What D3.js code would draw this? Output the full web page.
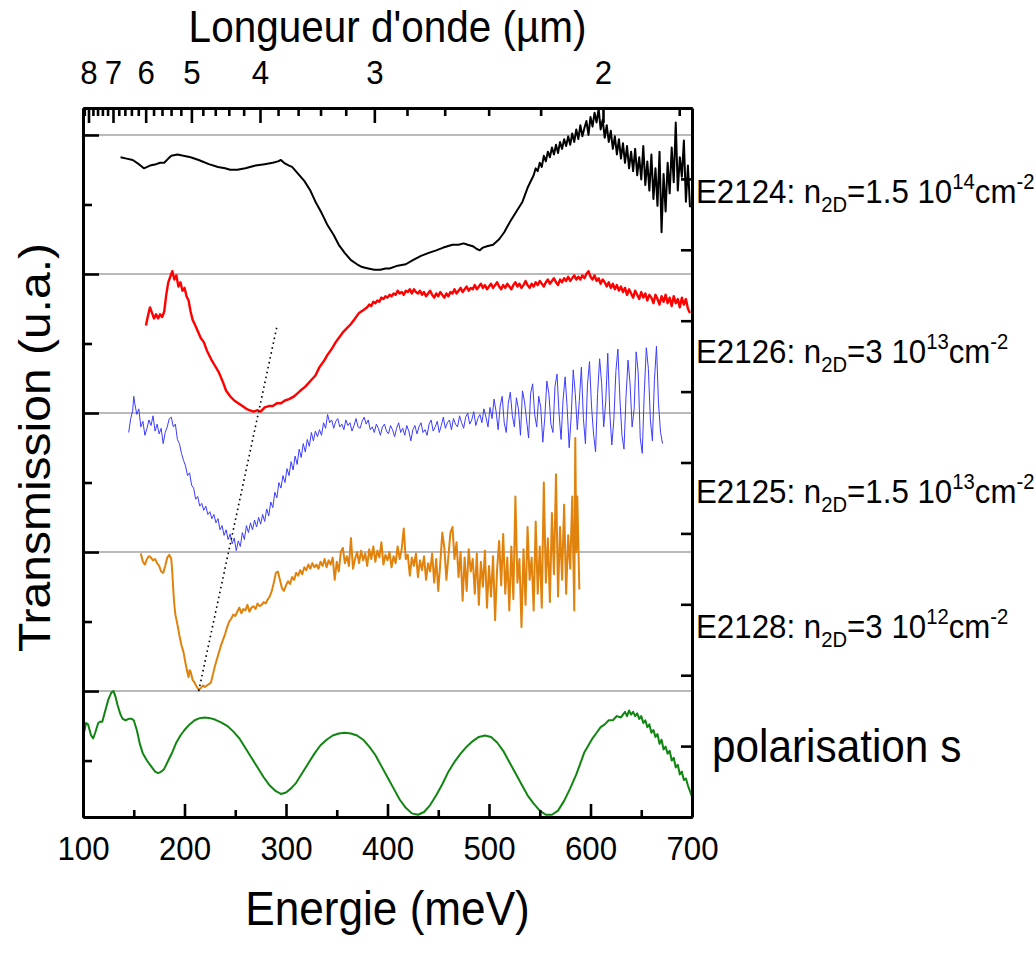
<!DOCTYPE html>
<html>
<head>
<meta charset="utf-8">
<script src="https://cdn.jsdelivr.net/npm/d3@7"></script>
<style>
  body { margin: 0; background: #fff; }
  text { font-family: "Liberation Sans", Arial, sans-serif; fill: #000; }
</style>
</head>
<body>
<div class="graph"></div>
<script>
// Spectra: [energy meV, transmission (offset, arbitrary units)]
var e2124 = [[137,384],[143,383],[149,382],[155,379],[160,376],[166,378],[172,379],[176,380],[180,380],[184,383],[187,385],[193,386],[199,385],[206,384],[214,382],[224,379],[233,377],[240,376],[245,375],[252,375],[260,376],[270,378],[279,379],[287,380],[292,381],[295,382],[298,380],[303,378],[306,377],[312,372],[318,367],[324,360],[329,352],[335,344],[341,335],[347,328],[352,321],[358,315],[364,310],[370,307],[375,305],[381,304],[387,303],[393,303],[398,304],[402,304],[410,306],[418,307],[425,310],[433,313],[440,315],[448,317],[455,319],[464,321],[470,321],[475,322],[479,321],[484,320],[488,318],[491,317],[494,319],[498,320],[504,321],[510,325],[515,330],[521,338],[527,345],[533,352],[538,362],[544,371],[546,376],[548,374],[550,380],[552,377],[554,385],[556,381],[558,388],[560,384],[562,391],[564,386],[566,393],[568,387],[570,395],[572,390],[574,397],[576,392],[578,399],[580,393],[582,401],[584,395],[586,404],[588,397],[590,407],[592,399],[594,405],[596,410],[598,400],[600,413],[602,406],[604,416],[606,409],[608,419],[610,404],[612,411],[614,398],[616,407],[618,395],[620,403],[622,390],[624,399],[626,386],[628,397],[630,383],[632,394],[634,380],[636,392],[638,376],[640,388],[642,374],[644,390],[646,371],[648,384],[650,368],[652,392],[654,364],[656,381],[658,360],[660,386],[662,354],[664,376],[666,349],[668,388],[670,330],[672,372],[674,345],[676,380],[678,358],[680,391],[682,366],[684,409],[686,360],[688,384],[690,370],[692,396],[694,352],[696,378],[698,348]];

var e2126 = [[162,263],[164,270],[166,276],[168,272],[170,268],[172,271],[174,268],[176,271],[178,269],[180,273],[182,285],[184,294],[186,298],[188,302],[190,296],[192,299],[194,291],[196,294],[198,288],[200,290],[202,284],[204,281],[206,273],[208,267],[210,264],[213,259],[216,254],[219,251],[222,245],[226,239],[230,234],[234,229],[238,222],[241,216],[245,212],[249,209],[253,207],[257,205],[261,203],[264,202],[268,201],[272,202],[275,201],[279,204],[283,205],[287,205],[291,207],[295,207],[299,209],[303,210],[308,212],[314,216],[319,219],[324,223],[329,227],[333,233],[337,237],[341,242],[345,246],[349,251],[352,254],[356,258],[360,261],[364,264],[368,268],[372,272],[376,274],[380,276],[382,278],[384,277],[386,280],[388,279],[390,281],[392,280],[394,283],[396,282],[398,284],[400,283],[402,285],[404,284],[406,286],[408,285],[410,288],[412,286],[414,287],[416,285],[418,288],[420,287],[422,289],[424,286],[426,289],[428,287],[430,286],[432,288],[434,285],[436,287],[438,284],[440,286],[442,288],[444,285],[446,283],[448,286],[450,284],[452,287],[454,285],[456,283],[458,286],[460,284],[462,287],[464,286],[466,289],[468,286],[470,288],[472,290],[474,287],[476,289],[478,291],[480,288],[482,290],[484,289],[486,292],[488,289],[490,291],[492,293],[494,290],[496,292],[498,289],[500,291],[502,293],[504,290],[506,292],[508,294],[510,291],[512,289],[514,292],[516,290],[518,293],[520,291],[522,289],[524,292],[526,294],[528,291],[530,293],[532,290],[534,292],[536,295],[538,292],[540,290],[542,293],[544,291],[546,294],[548,292],[550,295],[552,293],[554,291],[556,294],[558,296],[560,293],[562,295],[564,297],[566,294],[568,292],[570,296],[572,294],[574,297],[576,295],[578,298],[580,295],[582,297],[584,299],[586,296],[588,298],[590,296],[592,299],[594,297],[596,300],[598,302],[600,298],[602,296],[604,299],[606,295],[608,297],[610,293],[612,296],[614,294],[616,291],[618,294],[620,290],[622,293],[624,289],[626,292],[628,288],[630,291],[632,287],[634,290],[636,285],[638,289],[640,286],[642,283],[644,288],[646,285],[648,282],[650,287],[652,283],[654,286],[656,281],[658,285],[660,283],[662,279],[664,285],[666,282],[668,278],[670,284],[672,280],[674,285],[676,279],[678,283],[680,277],[682,284],[684,279],[686,282],[688,276],[690,283],[692,278],[694,282],[696,275],[698,272]];

var e2125 = [[145,186],[147,196],[149,202],[150,212],[151,207],[153,199],[155,203],[157,190],[159,194],[161,184],[163,189],[165,195],[167,191],[169,198],[171,187],[173,192],[175,185],[177,189],[179,178],[181,186],[183,190],[185,196],[187,197],[189,190],[191,192],[193,181],[195,178],[197,171],[199,166],[201,162],[203,155],[205,157],[207,148],[209,146],[211,138],[213,140],[215,133],[217,135],[219,130],[221,133],[223,127],[225,129],[227,124],[229,127],[231,121],[233,124],[235,116],[237,119],[239,112],[241,116],[243,109],[245,113],[247,106],[249,110],[251,101],[253,108],[255,104],[257,114],[259,109],[261,119],[263,114],[265,121],[267,116],[269,123],[271,118],[273,125],[275,120],[277,127],[279,122],[281,131],[283,126],[285,136],[287,132],[289,143],[291,139],[293,150],[295,146],[297,155],[299,150],[301,160],[303,155],[305,165],[307,159],[309,169],[311,163],[313,174],[315,168],[317,178],[319,172],[321,181],[323,176],[325,186],[327,180],[329,187],[331,183],[333,188],[335,184],[337,193],[339,189],[341,199],[343,193],[345,195],[347,189],[349,194],[351,196],[353,190],[355,192],[357,188],[359,195],[361,191],[363,193],[365,187],[367,191],[369,196],[371,190],[373,189],[375,194],[377,197],[379,192],[381,195],[383,188],[385,190],[387,186],[389,192],[391,189],[393,184],[395,190],[397,192],[399,187],[401,185],[403,191],[405,188],[407,183],[409,189],[411,193],[413,186],[415,189],[417,184],[419,191],[421,187],[423,180],[425,188],[427,191],[429,185],[431,190],[433,193],[435,186],[437,188],[439,184],[441,192],[443,195],[445,187],[447,190],[449,194],[451,186],[453,191],[455,197],[457,189],[459,193],[461,195],[463,188],[465,196],[467,192],[469,190],[471,198],[473,193],[475,189],[477,197],[479,200],[481,192],[483,195],[485,201],[487,191],[489,196],[491,199],[493,193],[495,203],[497,197],[499,190],[501,204],[503,196],[505,210],[507,201],[509,188],[511,205],[513,212],[515,193],[517,186],[519,207],[521,215],[523,198],[525,190],[527,211],[529,203],[531,184],[533,216],[535,208],[537,195],[539,182],[541,214],[543,221],[545,199],[547,190],[549,212],[551,204],[553,179],[555,197],[557,223],[559,214],[561,192],[563,186],[565,219],[567,228],[569,200],[571,181],[573,210],[575,226],[577,204],[579,175],[581,198],[583,231],[585,214],[587,188],[589,209],[591,233],[593,196],[595,178],[597,220],[599,237],[601,205],[603,185],[605,172],[607,214],[609,239],[611,221],[613,190],[615,208],[617,243],[619,200],[621,177],[623,195],[625,230],[627,246],[629,210],[631,184],[633,174],[635,212],[637,238],[639,221],[641,190],[643,203],[645,244],[647,229],[649,182],[651,171],[653,215],[655,247],[657,232],[659,195],[661,180],[663,224],[665,248],[667,207],[669,186],[671,178]];

var e2128 = [[157,99],[159,93],[161,91],[163,95],[165,97],[167,96],[169,94],[171,95],[173,92],[175,90],[177,86],[179,85],[181,90],[183,96],[185,98],[187,95],[188,85],[189,72],[190,62],[191,55],[193,48],[195,40],[197,33],[199,28],[201,20],[203,13],[204,10],[205,15],[206,14],[208,8],[210,6],[212,3],[214,1],[216,2],[218,4],[220,3],[222,4],[224,5],[226,6],[228,12],[230,18],[232,23],[234,28],[236,33],[238,37],[240,41],[242,46],[244,50],[246,52],[248,55],[250,54],[252,57],[254,60],[256,56],[258,59],[260,58],[262,62],[264,57],[266,60],[268,61],[270,59],[272,63],[274,61],[276,62],[278,64],[280,63],[282,66],[284,68],[286,72],[288,78],[290,85],[292,86],[294,80],[296,74],[298,72],[300,76],[302,79],[304,77],[306,82],[308,80],[310,85],[312,83],[314,87],[316,84],[318,89],[320,87],[322,91],[324,88],[326,92],[328,89],[330,91],[332,88],[334,93],[336,90],[338,95],[340,89],[342,94],[344,91],[346,96],[348,80],[350,93],[352,86],[354,100],[356,103],[358,92],[360,97],[362,90],[364,110],[366,88],[368,95],[370,100],[372,92],[374,101],[376,94],[378,99],[380,90],[382,102],[384,95],[386,104],[388,93],[390,101],[392,96],[394,107],[396,91],[398,98],[400,94],[402,100],[404,89],[406,97],[408,92],[410,104],[412,95],[414,102],[416,117],[418,95],[420,98],[422,83],[424,96],[426,90],[428,99],[430,82],[432,94],[434,87],[436,97],[438,80],[440,92],[442,86],[444,99],[446,78],[448,95],[450,72],[452,92],[454,114],[456,103],[458,80],[460,97],[462,114],[464,118],[466,95],[468,107],[470,82],[472,100],[474,65],[476,96],[478,72],[480,102],[482,86],[484,95],[486,70],[488,99],[490,62],[492,93],[494,75],[496,101],[498,60],[500,90],[502,68],[504,97],[506,51],[508,88],[510,108],[512,76],[514,113],[516,70],[518,96],[520,58],[522,104],[524,66],[526,140],[528,78],[530,95],[532,46],[534,102],[536,62],[538,118],[540,80],[542,96],[544,58],[546,122],[548,70],[550,104],[552,60],[554,150],[556,78],[558,110],[560,64],[562,128],[564,84],[566,156],[568,68],[570,118],[572,80],[574,134],[576,70],[578,112],[580,88],[582,140],[584,58],[585,182],[586,100],[587,140],[589,73]];

var polS = [[100,-28],[101,-30],[103,-23],[105,-24],[108,-32],[110,-34],[112,-30],[115,-23],[117,-22],[119,-22],[122,-14],[125,-6],[128,-1],[130,0],[132,-4],[134,-10],[137,-17],[139,-20],[142,-21],[145,-20],[148,-20],[150,-21],[153,-28],[156,-38],[159,-45],[163,-50],[167,-54],[171,-58],[174,-59],[177,-58],[180,-56],[184,-50],[188,-44],[192,-37],[196,-32],[200,-28],[205,-24],[210,-21],[215,-19.5],[220,-19],[225,-19.5],[230,-20.5],[236,-22.5],[242,-25],[248,-29],[254,-34],[260,-41],[266,-48],[272,-55],[278,-62],[284,-68],[290,-72],[295,-74],[300,-73],[305,-70],[310,-66],[316,-59],[322,-52],[328,-45],[334,-39],[340,-35],[346,-32],[352,-30.5],[358,-30],[364,-30.5],[370,-32],[376,-35],[382,-40],[388,-46],[394,-54],[400,-62],[406,-70],[412,-78],[418,-84],[424,-88],[430,-89],[436,-87],[442,-82],[448,-75],[454,-67],[460,-58],[466,-51],[472,-45],[478,-40],[484,-36],[490,-33],[496,-32],[502,-33],[508,-37],[514,-43],[520,-51],[526,-59],[532,-67],[538,-75],[544,-81],[550,-86],[556,-89],[562,-89],[568,-86],[574,-79],[580,-70],[586,-60],[590,-52],[594,-44],[598,-39],[602,-34],[606,-30],[610,-26],[614,-24],[618,-21],[622,-21],[626,-18],[630,-19],[634,-15],[636,-18],[638,-14],[640,-17],[642,-15],[644,-18],[646,-16],[648,-20],[650,-18],[652,-23],[654,-21],[656,-26],[658,-24],[660,-30],[662,-28],[664,-33],[666,-31],[668,-38],[670,-35],[672,-42],[674,-40],[676,-45],[678,-43],[680,-50],[682,-48],[684,-55],[686,-53],[688,-60],[690,-58],[692,-64],[694,-63],[696,-68],[698,-72],[700,-76]];

var guide = [[214,0],[291,262]];

var baselines = [0, 100, 200, 300, 400];
var lambdaMajor = [8, 7, 6, 5, 4, 3, 2];
var lambdaMinor = [8.2, 7.8, 7.6, 7.4, 7.2, 6.8, 6.6, 6.4, 6.2, 5.8, 5.6, 5.4, 5.2, 4.8, 4.6, 4.4, 4.2, 3.8, 3.6, 3.4, 3.2, 2.8, 2.6, 2.4, 2.2, 1.8];
var energyTicks = [100, 200, 300, 400, 500, 600, 700];
var energyMinor = [150, 250, 350, 450, 550, 650];

var labels = [
    {sample: "E2124", n: "1.5 10", exp: "14", y: 203},
    {sample: "E2126", n: "3 10", exp: "13", y: 363},
    {sample: "E2125", n: "1.5 10", exp: "13", y: 503},
    {sample: "E2128", n: "3 10", exp: "12", y: 638}
];

// Layout
var width = 1036, height = 961;
var margin = {left: 83, top: 108, right: 344, bottom: 144};
var w = width - margin.left - margin.right;
var h = height - margin.top - margin.bottom;
var squeeze = 0.92;

var svg = d3.select(".graph").append("svg")
    .attr("width", width)
    .attr("height", height)
    .style("display", "block");

var g = svg.append("g")
    .attr("transform", "translate(" + margin.left + "," + margin.top + ")");

// Scales
var x = d3.scaleLinear().domain([100, 700]).range([0, w]);
var y = d3.scaleLinear().domain([-90.6, 419.4]).range([h, 0]);
var yRight = d3.scaleLinear().domain([0, 10]).range([h, 0]);
// top axis is linear in 1/wavelength (µm^-1)
var xTop = d3.scaleLinear().domain([0.12099, 0.56487]).range([0, w]);

g.append("clipPath").attr("id", "plotclip")
    .append("rect").attr("width", w).attr("height", h);

// baselines
g.selectAll(".base").data(baselines).enter().append("line")
    .attr("x1", 0).attr("x2", w)
    .attr("y1", function (d) { return y(d); })
    .attr("y2", function (d) { return y(d); })
    .attr("stroke", "#a3a3a3")
    .attr("stroke-width", 1.6);

var line = d3.line()
    .x(function (d) { return x(d[0]); })
    .y(function (d) { return y(d[1]); });

var series = [
    {pts: e2124, color: "#000000", lw: 2},
    {pts: e2126, color: "#ff0000", lw: 2.4},
    {pts: e2125, color: "#3c3cff", lw: 1},
    {pts: e2128, color: "#e0820c", lw: 2},
    {pts: polS, color: "#118511", lw: 2}
];

var plot = g.append("g").attr("clip-path", "url(#plotclip)");
plot.selectAll(".curve").data(series).enter().append("path")
    .attr("d", function (d) { return line(d.pts); })
    .attr("fill", "none")
    .attr("stroke", function (d) { return d.color; })
    .attr("stroke-width", function (d) { return d.lw; })
    .attr("stroke-linejoin", "round");

plot.append("path")
    .attr("d", line(guide))
    .attr("fill", "none")
    .attr("stroke", "#000")
    .attr("stroke-width", 1.6)
    .attr("stroke-dasharray", "1.6,3.4");

// Axes
function styleAxis(sel, fontSize) {
    sel.select(".domain").attr("stroke-width", 3);
    sel.selectAll(".tick line").attr("stroke-width", 2.6);
    sel.selectAll("text")
        .style("font-family", "'Liberation Sans', Arial, sans-serif")
        .style("font-size", fontSize + "px")
        .attr("fill", "#000")
        .attr("transform", "scale(" + squeeze + ",1)");
}

g.append("g")
    .attr("transform", "translate(0," + h + ")")
    .call(d3.axisBottom(x).tickValues(energyMinor).tickSizeInner(-7).tickSizeOuter(0).tickFormat(""))
    .call(styleAxis, 34);
g.append("g")
    .attr("transform", "translate(0," + h + ")")
    .call(d3.axisBottom(x).tickValues(energyTicks).tickSizeInner(-13).tickSizeOuter(0).tickPadding(19))
    .call(styleAxis, 34);

g.append("g")
    .call(d3.axisTop(xTop).tickValues(lambdaMinor.map(function (l) { return 1 / l; }))
        .tickSizeInner(-8).tickSizeOuter(0).tickFormat(""))
    .call(styleAxis, 34);
g.append("g")
    .call(d3.axisTop(xTop).tickValues(lambdaMajor.map(function (l) { return 1 / l; }))
        .tickSizeInner(-15).tickSizeOuter(0).tickPadding(24)
        .tickFormat(function (d) { return Math.round(1 / d); }))
    .call(styleAxis, 34);

g.append("g")
    .call(d3.axisLeft(y).tickValues([-50, 50, 150, 250, 350]).tickSizeInner(-9).tickSizeOuter(0).tickFormat(""))
    .call(styleAxis, 34);
g.append("g")
    .call(d3.axisLeft(y).tickValues(baselines).tickSizeInner(-16).tickSizeOuter(0).tickFormat(""))
    .call(styleAxis, 34);

g.append("g")
    .attr("transform", "translate(" + w + ",0)")
    .call(d3.axisRight(yRight).ticks(10).tickSizeInner(-11).tickSizeOuter(0).tickFormat(""))
    .call(styleAxis, 34);

// Titles
svg.append("text")
    .attr("transform", "translate(" + (margin.left + w / 2) + ",42) scale(" + squeeze + ",1)")
    .attr("text-anchor", "middle")
    .style("font-size", "44px")
    .text("Longueur d'onde (\u00b5m)");

svg.append("text")
    .attr("transform", "translate(" + (margin.left + w / 2) + ",925) scale(" + squeeze + ",1)")
    .attr("text-anchor", "middle")
    .style("font-size", "48px")
    .text("Energie (meV)");

svg.append("text")
    .attr("transform", "translate(50," + (margin.top + h / 2 - 15) + ") rotate(-90) scale(1," + squeeze + ")")
    .attr("text-anchor", "middle")
    .style("font-size", "48px")
    .text("Transmission (u.a.)");

// Sample labels
var lab = svg.selectAll(".lab").data(labels).enter().append("text")
    .attr("transform", function (d) { return "translate(696," + d.y + ") scale(" + squeeze + ",1)"; })
    .style("font-size", "34px");
lab.append("tspan").text(function (d) { return d.sample + ": n"; });
lab.append("tspan").attr("dy", 9).style("font-size", "22px").text("2D");
lab.append("tspan").attr("dy", -9).text(function (d) { return "=" + d.n; });
lab.append("tspan").attr("dy", -14).style("font-size", "22px").text(function (d) { return d.exp; });
lab.append("tspan").attr("dy", 14).text("cm");
lab.append("tspan").attr("dy", -14).style("font-size", "22px").text("-2");

svg.append("text")
    .attr("transform", "translate(712,762) scale(" + squeeze + ",1)")
    .style("font-size", "46px")
    .text("polarisation s");
</script>
</body>
</html>
